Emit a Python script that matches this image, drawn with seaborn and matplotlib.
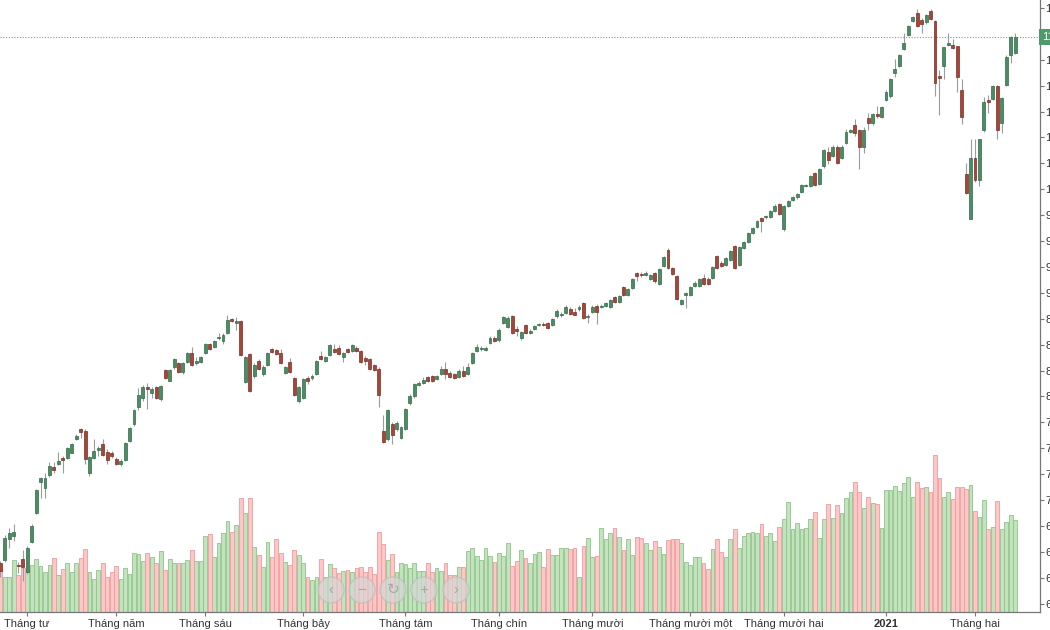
import numpy as np
import pandas as pd
import seaborn as sns
import matplotlib.pyplot as plt
from matplotlib.patches import Ellipse

# daily OHLC (trading days from late March 2020 to late Feb 2021)
opens = [639, 642, 662, 665, 637, 643, 631, 660, 688, 717,
         712, 724, 732, 735, 741, 741, 745, 759, 769, 767,
         726, 741, 748, 754, 746, 745, 740, 735, 739, 757,
         773, 790, 799, 809, 803, 809, 798, 826, 815, 828,
         832, 824, 833, 842, 832, 833, 842, 851, 848, 856,
         854, 861, 875, 871, 873, 814, 841, 820, 834, 822,
         830, 846, 845, 842, 823, 833, 818, 796, 799, 818,
         818, 822, 839, 834, 840, 846, 847, 838, 846, 844,
         847, 844, 837, 836, 830, 827, 767, 759, 773, 769,
         760, 769, 794, 800, 811, 813, 819, 820, 817, 822,
         827, 823, 822, 819, 825, 822, 832, 844, 846, 845,
         852, 856, 855, 871, 867, 878, 865, 856, 869, 861,
         865, 869, 870, 871, 869, 878, 879, 881, 884, 882,
         884, 890, 877, 882, 887, 886, 887, 886, 896, 891,
         906, 898, 905, 919, 918, 917, 913, 919, 909, 926,
         941, 924, 916, 889, 898, 898, 907, 907, 914, 913,
         914, 936, 929, 927, 932, 945, 927, 943, 949, 958,
         964, 972, 973, 973, 979, 986, 962, 984, 990, 993,
         997, 1003, 1003, 1016, 1005, 1022, 1036, 1032, 1041, 1030,
         1045, 1055, 1062, 1057, 1041, 1069, 1064, 1073, 1070, 1086,
         1090, 1112, 1119, 1135, 1149, 1162, 1170, 1163, 1161, 1172,
         1162, 1109, 1119, 1139, 1139, 1138, 1096, 1015, 971, 1030,
         1009, 1057, 1086, 1087, 1100, 1064, 1101, 1130, 1132]

closes = [632, 663, 668, 669, 636, 635, 654, 675, 710, 721,
          721, 733, 729, 738, 739, 750, 754, 762, 766, 740,
          742, 747, 750, 744, 739, 743, 735, 738, 755, 770,
          787, 801, 809, 807, 807, 799, 810, 818, 826, 836,
          824, 832, 842, 830, 834, 838, 851, 846, 854, 857,
          859, 874, 873, 873, 840, 838, 805, 830, 827, 828,
          842, 843, 841, 832, 828, 824, 801, 809, 817, 815,
          820, 834, 836, 838, 850, 843, 841, 842, 843, 850,
          844, 833, 834, 827, 826, 801, 756, 787, 763, 774,
          771, 788, 800, 812, 813, 816, 815, 815, 820, 827,
          822, 819, 818, 825, 820, 828, 842, 848, 847, 847,
          856, 854, 864, 877, 876, 861, 863, 862, 861, 863,
          868, 870, 869, 866, 875, 883, 880, 886, 880, 879,
          886, 876, 878, 886, 882, 887, 890, 893, 891, 897,
          898, 904, 913, 916, 917, 919, 917, 911, 923, 935,
          924, 918, 894, 893, 900, 906, 910, 913, 909, 909,
          925, 924, 926, 934, 940, 924, 944, 949, 958, 963,
          969, 969, 974, 979, 984, 976, 984, 989, 993, 995,
          1004, 1004, 1013, 1004, 1020, 1038, 1028, 1041, 1025, 1041,
          1055, 1057, 1054, 1041, 1057, 1064, 1073, 1071, 1079, 1094,
          1106, 1116, 1130, 1141, 1158, 1166, 1158, 1160, 1168, 1164,
          1103, 1107, 1137, 1141, 1136, 1108, 1070, 996, 1030, 1009,
          1049, 1084, 1084, 1100, 1057, 1088, 1128, 1147, 1147]

highs = [641, 666, 673, 677, 640, 652, 656, 677, 711, 722,
         726, 737, 737, 746, 743, 751, 755, 764, 770, 769,
         743, 759, 752, 759, 749, 747, 742, 740, 756, 771,
         788, 808, 811, 813, 809, 810, 811, 827, 827, 837,
         833, 833, 843, 848, 838, 839, 852, 852, 855, 861,
         861, 879, 876, 877, 874, 839, 842, 832, 836, 830,
         843, 847, 846, 846, 829, 837, 819, 810, 818, 820,
         822, 835, 844, 839, 851, 851, 850, 843, 847, 851,
         849, 845, 839, 837, 831, 828, 782, 788, 775, 776,
         772, 789, 802, 813, 815, 819, 820, 821, 821, 829,
         833, 825, 823, 827, 829, 832, 843, 851, 849, 849,
         858, 858, 866, 878, 878, 879, 868, 863, 870, 865,
         869, 871, 872, 872, 876, 884, 882, 888, 886, 885,
         888, 891, 880, 888, 889, 889, 891, 894, 897, 898,
         907, 905, 914, 920, 920, 921, 918, 920, 924, 936,
         943, 925, 917, 894, 901, 907, 911, 914, 918, 915,
         926, 937, 931, 935, 941, 946, 945, 950, 959, 964,
         970, 973, 975, 980, 986, 987, 985, 990, 994, 996,
         1005, 1005, 1014, 1017, 1021, 1039, 1041, 1043, 1043, 1043,
         1058, 1058, 1068, 1058, 1060, 1074, 1074, 1080, 1080, 1096,
         1107, 1126, 1131, 1151, 1159, 1167, 1174, 1165, 1169, 1174,
         1163, 1115, 1137, 1151, 1145, 1138, 1106, 1025, 1049, 1049,
         1049, 1089, 1091, 1101, 1101, 1089, 1130, 1148, 1151]

lows = [626, 640, 654, 661, 630, 622, 629, 659, 687, 702,
        702, 722, 726, 734, 726, 740, 745, 758, 760, 735,
        723, 740, 743, 743, 735, 741, 734, 733, 738, 756,
        772, 787, 796, 788, 799, 798, 796, 817, 815, 827,
        823, 822, 832, 829, 830, 832, 841, 845, 847, 855,
        851, 860, 872, 864, 839, 813, 804, 818, 826, 820,
        829, 842, 840, 831, 822, 823, 800, 794, 798, 812,
        816, 821, 835, 833, 839, 842, 840, 833, 842, 843,
        843, 832, 830, 826, 825, 790, 755, 757, 754, 767,
        759, 768, 792, 799, 810, 812, 814, 814, 816, 821,
        817, 818, 817, 818, 819, 821, 831, 843, 844, 844,
        851, 853, 853, 870, 866, 860, 858, 855, 860, 860,
        864, 868, 868, 865, 868, 876, 877, 880, 879, 879,
        883, 875, 871, 881, 870, 885, 886, 885, 890, 890,
        897, 897, 904, 911, 915, 916, 912, 910, 908, 925,
        923, 917, 893, 888, 885, 897, 906, 906, 908, 908,
        913, 923, 925, 926, 931, 923, 926, 942, 948, 957,
        963, 959, 971, 972, 978, 975, 960, 983, 989, 991,
        996, 1002, 1002, 1003, 1004, 1021, 1024, 1031, 1024, 1029,
        1044, 1054, 1051, 1020, 1035, 1057, 1062, 1069, 1069, 1085,
        1088, 1108, 1118, 1134, 1148, 1161, 1157, 1151, 1160, 1163,
        1090, 1072, 1106, 1138, 1135, 1094, 1063, 995, 971, 1007,
        1003, 1055, 1074, 1086, 1049, 1054, 1100, 1122, 1131]

# volume, millions of shares
volumes = [215, 175, 175, 260, 185, 220, 210, 235, 265, 230,
           200, 235, 270, 185, 215, 245, 200, 245, 270, 315,
           200, 165, 210, 245, 175, 200, 230, 165, 220, 190,
           295, 290, 255, 295, 275, 245, 305, 210, 265, 245,
           245, 245, 260, 310, 255, 255, 380, 390, 275, 345,
           395, 455, 400, 435, 570, 495, 570, 325, 285, 225,
           350, 275, 365, 295, 250, 235, 310, 285, 245, 175,
           160, 175, 265, 175, 240, 220, 195, 205, 210, 200,
           220, 225, 200, 225, 190, 400, 340, 260, 290, 200,
           245, 240, 220, 245, 205, 205, 245, 200, 220, 205,
           245, 185, 185, 225, 225, 305, 320, 280, 260, 320,
           280, 250, 295, 280, 345, 230, 255, 310, 270, 245,
           290, 300, 225, 315, 285, 285, 320, 320, 315, 320,
           175, 330, 370, 275, 280, 420, 365, 395, 420, 375,
           310, 365, 285, 375, 370, 345, 310, 355, 325, 290,
           360, 365, 365, 345, 250, 235, 275, 275, 245, 215,
           315, 365, 300, 275, 365, 415, 320, 380, 395, 400,
           395, 440, 380, 395, 355, 425, 465, 550, 415, 445,
           415, 420, 465, 500, 370, 465, 540, 470, 535, 495,
           570, 600, 650, 600, 520, 575, 545, 540, 420, 610,
           610, 630, 605, 645, 675, 575, 650, 620, 625, 600,
           785, 670, 575, 600, 565, 625, 625, 615, 635, 505,
           475, 560, 415, 425, 555, 415, 450, 485, 460]

month_pos = [6, 26, 46, 68, 91, 112, 133, 155, 176, 199, 219]
month_labels = ['Tháng tư', 'Tháng năm', 'Tháng sáu', 'Tháng bảy', 'Tháng tám',
                'Tháng chín', 'Tháng mười', 'Tháng mười một', 'Tháng mười hai',
                '2021', 'Tháng hai']
price_ticks = list(range(600, 1176, 25))

sns.set_theme(style='white')
plt.rcParams['font.family'] = ['Liberation Sans', 'DejaVu Sans']

df = pd.DataFrame({'day': range(len(closes)), 'open': opens, 'high': highs,
                   'low': lows, 'close': closes, 'volume': volumes})
df['dir'] = np.where(df['close'] >= df['open'], 'up', 'down')

fig = plt.figure(figsize=(10.5, 6.3), dpi=100)
ax = fig.add_axes([0, 18 / 630, 1040 / 1050, 612 / 630])
axv = ax.twinx()
ax.set_zorder(axv.get_zorder() + 1)
ax.patch.set_visible(False)

# volume bars behind the candles
sns.barplot(data=df, x='day', y='volume', hue='dir', hue_order=['up', 'down'],
            palette={'up': '#c2e3bd', 'down': '#fbc7c7'}, saturation=1,
            width=0.86, errorbar=None, legend=False, ax=axv)
for bar in axv.patches:
    r, g, b, a = bar.get_facecolor()
    bar.set_edgecolor('#8fc48a' if g > r else '#ee9c9c')
    bar.set_linewidth(0.6)
axv.set_ylim(0, 3060)
axv.set_yticks([])
axv.set_ylabel('')
axv.set_xlabel('')
for s in axv.spines.values():
    s.set_visible(False)

# candles
up = df['dir'] == 'up'
ax.vlines(df['day'], df['low'], df['high'], color='#9c9c9c', lw=0.8, zorder=2)
body_lo = df[['open', 'close']].min(axis=1)
body_h = (df['close'] - df['open']).abs().clip(lower=0.9)
ax.bar(df['day'], body_h, bottom=body_lo, width=0.66,
       color=np.where(up, '#4b8c64', '#a4463a'),
       edgecolor=np.where(up, '#2f6b47', '#7a2c22'), linewidth=0.5, zorder=3)

last = closes[-1]
ax.axhline(last, color='#6aab88', lw=0.8, ls=(0, (1, 1.5)), zorder=1)
ax.text(1.002, last, f'{last:.2f}', transform=ax.get_yaxis_transform(),
        ha='left', va='center', color='white', fontsize=8, clip_on=False, zorder=10,
        bbox=dict(boxstyle='square,pad=0.3', fc='#4f9a6b', ec='none'))

ax.set_xlim(-0.11, 233.6)
ax.set_ylim(592, 1182.7)

ax.yaxis.tick_right()
ax.set_yticks(price_ticks)
ax.tick_params(axis='y', right=True, left=False, labelright=True, labelleft=False,
               length=3, width=0.8, color='#777777', labelsize=8, labelcolor='#333333', pad=1)
ax.set_xticks(month_pos, month_labels)
ax.tick_params(axis='x', bottom=True, length=3, width=0.8, color='#777777',
               labelsize=8, labelcolor='#333333', pad=2)
for lbl in ax.get_xticklabels():
    if lbl.get_text() == '2021':
        lbl.set_fontweight('bold')
ax.set_xlabel('')
ax.set_ylabel('')

for side in ['top', 'left']:
    ax.spines[side].set_visible(False)
for side in ['right', 'bottom']:
    ax.spines[side].set_visible(True)
    ax.spines[side].set_color('#777777')
    ax.spines[side].set_linewidth(0.9)

# navigation buttons overlay
for xc, sym in zip([331, 362, 393, 424, 456], ['‹', '−', '↻', '+', '›']):
    fig.add_artist(Ellipse((xc / 1050, 40 / 630), 26 / 1050, 26 / 630,
                           transform=fig.transFigure, fc='#d6d6d6', ec='#bdbdbd',
                           alpha=0.7, lw=1, zorder=20))
    fig.text(xc / 1050, 40 / 630, sym, ha='center', va='center', fontsize=11,
             color='#a8a8a8', zorder=21)

fig.savefig('out.png', dpi=100)
